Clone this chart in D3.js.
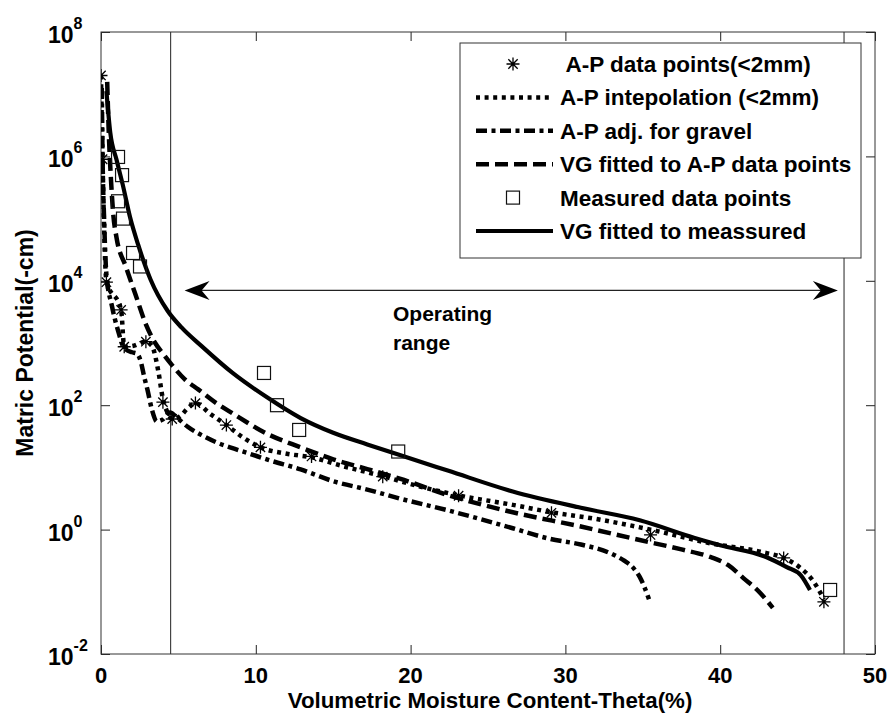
<!DOCTYPE html>
<html>
<head>
<meta charset="utf-8">
<script src="https://cdn.jsdelivr.net/npm/d3@7"></script>
<style>
  html, body { margin: 0; padding: 0; background: #fff; }
  svg text { font-family: "Liberation Sans", Arial, Helvetica, sans-serif; font-weight: bold; fill: #000; }
</style>
</head>
<body>
<svg id="chart" width="894" height="726"></svg>
<script>
// ---------------- data ----------------
const xTicks = [0, 10, 20, 30, 40, 50];
const yTicks = [1e-2, 1e0, 1e2, 1e4, 1e6, 1e8];

// A-P data points (<2mm)  [theta %, matric potential -cm]
const apPoints = [
  [0.0, 2.0e7], [0.1, 9.0e5], [0.35, 9.5e3], [1.3, 3400], [1.5, 870], [2.9, 1050],
  [4.0, 112], [4.6, 60], [6.1, 108], [8.1, 48], [10.3, 21], [13.6, 15],
  [18.2, 7.1], [23.1, 3.5], [29.1, 1.86], [35.5, 0.82], [44.1, 0.35], [46.7, 0.069]
];
// A-P intepolation (<2mm)
const apInterp = [
  [0.0, 2.0e7], [0.1, 8.9e5], [0.35, 1.0e4], [1.3, 3400], [1.5, 870], [2.0, 890],
  [2.9, 1050], [3.3, 890], [3.7, 355], [4.0, 126], [4.3, 76], [4.6, 60], [5.1, 66],
  [5.6, 89], [6.1, 107], [7.1, 71], [8.1, 48], [9.2, 30], [10.3, 21], [12.0, 16.6],
  [13.6, 14.5], [15.5, 10.7], [18.2, 7.2], [20.5, 5.0], [23.1, 3.55], [26.6, 2.5],
  [29.1, 1.9], [32.0, 1.48], [35.5, 1.0], [39.4, 0.60], [42.6, 0.44], [44.1, 0.35],
  [45.2, 0.24], [46.0, 0.15], [46.7, 0.076]
];
// A-P adj. for gravel
const apGravel = [
  [0.05, 1.26e7], [0.1, 1.0e6], [0.2, 1.0e5], [0.35, 1.26e4], [0.7, 4000], [1.1, 1580],
  [1.5, 830], [2.0, 710], [2.3, 680], [2.55, 525], [2.8, 280], [3.0, 178], [3.3, 83],
  [3.6, 55], [4.0, 59], [4.45, 76], [5.0, 60], [5.6, 45], [6.5, 33], [7.5, 25],
  [8.6, 20], [9.6, 16.6], [10.8, 13.2], [12.9, 9.3], [15.0, 6.0], [17.2, 4.4],
  [19.3, 3.16], [22.4, 2.04], [24.5, 1.48], [26.6, 1.05], [29.0, 0.71], [31.0, 0.575],
  [32.9, 0.417], [33.8, 0.316], [34.4, 0.24], [34.8, 0.174], [35.1, 0.12], [35.4, 0.076]
];
// VG fitted to A-P data points
const vgAP = [
  [0.4, 1.58e7], [0.5, 2.5e6], [0.65, 4.0e5], [0.8, 1.12e5], [1.0, 5.0e4], [1.6, 1.7e4],
  [2.2, 6300], [2.9, 2000], [3.5, 1000], [4.0, 676], [4.6, 437], [5.4, 263], [6.3, 178],
  [7.4, 110], [8.5, 74], [10.7, 35], [12.9, 21], [15.0, 13.5], [17.2, 9.4], [19.3, 6.6],
  [22.4, 3.6], [26.6, 1.9], [31.0, 1.12], [34.8, 0.68], [37.5, 0.48], [39.4, 0.36],
  [40.5, 0.27], [41.5, 0.166], [42.6, 0.095], [43.4, 0.055]
];
// Measured data points
const measured = [
  [1.1, 9.8e5], [1.36, 5.0e5], [1.1, 1.9e5], [1.42, 1.0e5], [2.07, 2.8e4], [2.52, 1.7e4],
  [10.53, 330], [11.37, 100], [12.8, 40], [19.2, 18], [47.1, 0.107]
];
// VG fitted to meassured
const vgMeasured = [
  [0.35, 1.12e7], [0.6, 2.4e6], [1.0, 8.9e5], [1.4, 3.55e5], [1.9, 1.0e5], [2.4, 3.8e4],
  [3.2, 1.05e4], [4.3, 3300], [5.2, 1780], [6.5, 890], [8.5, 330], [10.7, 135],
  [12.9, 62], [15.0, 36], [17.2, 23.4], [19.3, 15.8], [22.4, 8.9], [26.6, 4.1],
  [31.0, 2.24], [34.8, 1.41], [38.3, 0.74], [40.0, 0.56], [43.0, 0.36], [44.3, 0.25],
  [45.2, 0.186], [45.8, 0.107]
];
// operating range markers
const rangeLines = [4.5, 48];
const rangeArrow = { from: 5.4, to: 47.6, at: 7000 };
const annotation = ["Operating", "range"];

const legendLabels = [
  " A-P data points(<2mm)",
  "A-P intepolation (<2mm)",
  "A-P adj. for gravel",
  "VG fitted to A-P data points",
  "Measured data points",
  "VG fitted to meassured"
];
const xTitle = "Volumetric Moisture Content-Theta(%)";
const yTitle = "Matric Potential(-cm)";

// ---------------- layout ----------------
const svg = d3.select("#chart");
const L = 101, R = 875, T = 32, B = 654;
const x = d3.scaleLinear().domain([0, 50]).range([L, R]);
const y = d3.scaleLog().domain([1e-2, 1e8]).range([B, T]);

const styles = {
  dotted:  { width: 4.5, dash: "4 4.6" },
  dashdot: { width: 4.5, dash: "11 4.5 4 4.5" },
  dashed:  { width: 4.5, dash: "13 6" },
  solid:   { width: 4.2, dash: null }
};

svg.append("defs").append("clipPath").attr("id", "clip")
  .append("rect").attr("x", L).attr("y", T).attr("width", R - L).attr("height", B - T);

// vertical operating range lines
svg.append("g").selectAll("line").data(rangeLines).join("line")
  .attr("x1", d => x(d)).attr("x2", d => x(d)).attr("y1", T).attr("y2", B)
  .attr("stroke", "#222").attr("stroke-width", 1);

// axes (inward ticks, mirrored)
const tickLen = 9;
const axB = d3.axisBottom(x).tickValues(xTicks).tickSize(-tickLen).tickFormat("");
const axT = d3.axisTop(x).tickValues(xTicks).tickSize(-tickLen).tickFormat("");
const axLf = d3.axisLeft(y).tickValues(yTicks).tickSize(-tickLen).tickFormat("");
const axRt = d3.axisRight(y).tickValues(yTicks).tickSize(-tickLen).tickFormat("");
function styleAxis(g) {
  g.select(".domain").remove();
  g.selectAll("line").attr("stroke", "#222").attr("stroke-width", 1);
}
svg.append("g").attr("transform", `translate(0,${B})`).call(axB).call(styleAxis);
svg.append("g").attr("transform", `translate(0,${T})`).call(axT).call(styleAxis);
svg.append("g").attr("transform", `translate(${L},0)`).call(axLf).call(styleAxis);
svg.append("g").attr("transform", `translate(${R},0)`).call(axRt).call(styleAxis);

svg.append("rect").attr("x", L).attr("y", T).attr("width", R - L).attr("height", B - T)
  .attr("fill", "none").attr("stroke", "#333").attr("stroke-width", 1);

// tick labels
svg.append("g").selectAll("text").data(xTicks).join("text")
  .attr("x", d => x(d)).attr("y", 683).attr("text-anchor", "middle")
  .attr("font-size", 22).text(d => d);

const yl = svg.append("g").selectAll("text").data(yTicks).join("text")
  .attr("x", 48).attr("y", d => y(d) + 11).attr("font-size", 23);
yl.append("tspan").text("10");
yl.append("tspan").attr("dy", -14).attr("font-size", 16).text(d => Math.round(Math.log10(d)));

// axis titles
svg.append("text").attr("x", (L + R) / 2 + 2).attr("y", 708).attr("text-anchor", "middle")
  .attr("font-size", 22.3).text(xTitle);
svg.append("text").attr("transform", `translate(33,${(T + B) / 2}) rotate(-90)`)
  .attr("text-anchor", "middle").attr("font-size", 23).text(yTitle);

// curves
const lineGen = d3.line().x(d => x(d[0])).y(d => y(d[1])).curve(d3.curveMonotoneX);
const plot = svg.append("g").attr("clip-path", "url(#clip)");
function drawCurve(data, st) {
  plot.append("path").datum(data).attr("d", lineGen)
    .attr("fill", "none").attr("stroke", "#000")
    .attr("stroke-width", st.width)
    .attr("stroke-dasharray", st.dash)
    .attr("stroke-linejoin", "round");
}
drawCurve(apGravel, styles.dashdot);
drawCurve(apInterp, styles.dotted);
drawCurve(vgAP, styles.dashed);
drawCurve(vgMeasured, styles.solid);

// markers
function starPath(cx, cy, r) {
  const d = r * 0.72;
  return `M${cx - r},${cy}L${cx + r},${cy}M${cx},${cy - r}L${cx},${cy + r}` +
         `M${cx - d},${cy - d}L${cx + d},${cy + d}M${cx - d},${cy + d}L${cx + d},${cy - d}`;
}
plot.append("g").selectAll("path").data(apPoints).join("path")
  .attr("d", d => starPath(x(d[0]), y(d[1]), 6.5))
  .attr("stroke", "#000").attr("stroke-width", 1.3).attr("fill", "none");
plot.append("g").selectAll("rect").data(measured).join("rect")
  .attr("x", d => x(d[0]) - 6.5).attr("y", d => y(d[1]) - 6.5)
  .attr("width", 13).attr("height", 13)
  .attr("fill", "none").attr("stroke", "#111").attr("stroke-width", 1.2);

// operating range arrow
const ay = y(rangeArrow.at);
const ax1 = x(rangeArrow.from), ax2 = x(rangeArrow.to);
svg.append("line").attr("x1", ax1 + 10).attr("x2", ax2 - 10).attr("y1", ay).attr("y2", ay)
  .attr("stroke", "#222").attr("stroke-width", 1.2);
function arrowHead(tx, dir) {
  const len = 25, hw = 9.5, notch = 17;
  return `M${tx},${ay}L${tx + dir * len},${ay - hw}L${tx + dir * notch},${ay}L${tx + dir * len},${ay + hw}Z`;
}
svg.append("path").attr("d", arrowHead(ax1, 1)).attr("fill", "#000");
svg.append("path").attr("d", arrowHead(ax2, -1)).attr("fill", "#000");

svg.append("g").selectAll("text").data(annotation).join("text")
  .attr("x", 393).attr("y", (d, i) => 321 + i * 29).attr("font-size", 21).text(d => d);

// legend
const lg = svg.append("g");
lg.append("rect").attr("x", 460).attr("y", 43).attr("width", 401).attr("height", 215)
  .attr("fill", "#fff").attr("stroke", "#333").attr("stroke-width", 1);
const legendKinds = ["star", "dotted", "dashdot", "dashed", "square", "solid"];
legendLabels.forEach((lab, i) => {
  const cy = 64 + i * 33.4;
  const kind = legendKinds[i];
  if (kind === "star") {
    lg.append("path").attr("d", starPath(513, cy, 6.5)).attr("stroke", "#000")
      .attr("stroke-width", 1.3).attr("fill", "none");
  } else if (kind === "square") {
    lg.append("rect").attr("x", 506.5).attr("y", cy - 6.5).attr("width", 13).attr("height", 13)
      .attr("fill", "none").attr("stroke", "#111").attr("stroke-width", 1.2);
  } else {
    const st = styles[kind];
    lg.append("line").attr("x1", 476).attr("x2", 553).attr("y1", cy).attr("y2", cy)
      .attr("stroke", "#000").attr("stroke-width", st.width).attr("stroke-dasharray", st.dash);
  }
  lg.append("text").attr("x", 560).attr("y", cy + 8).attr("font-size", 22.5)
    .style("white-space", "pre").text(lab);
});
</script>
</body>
</html>
